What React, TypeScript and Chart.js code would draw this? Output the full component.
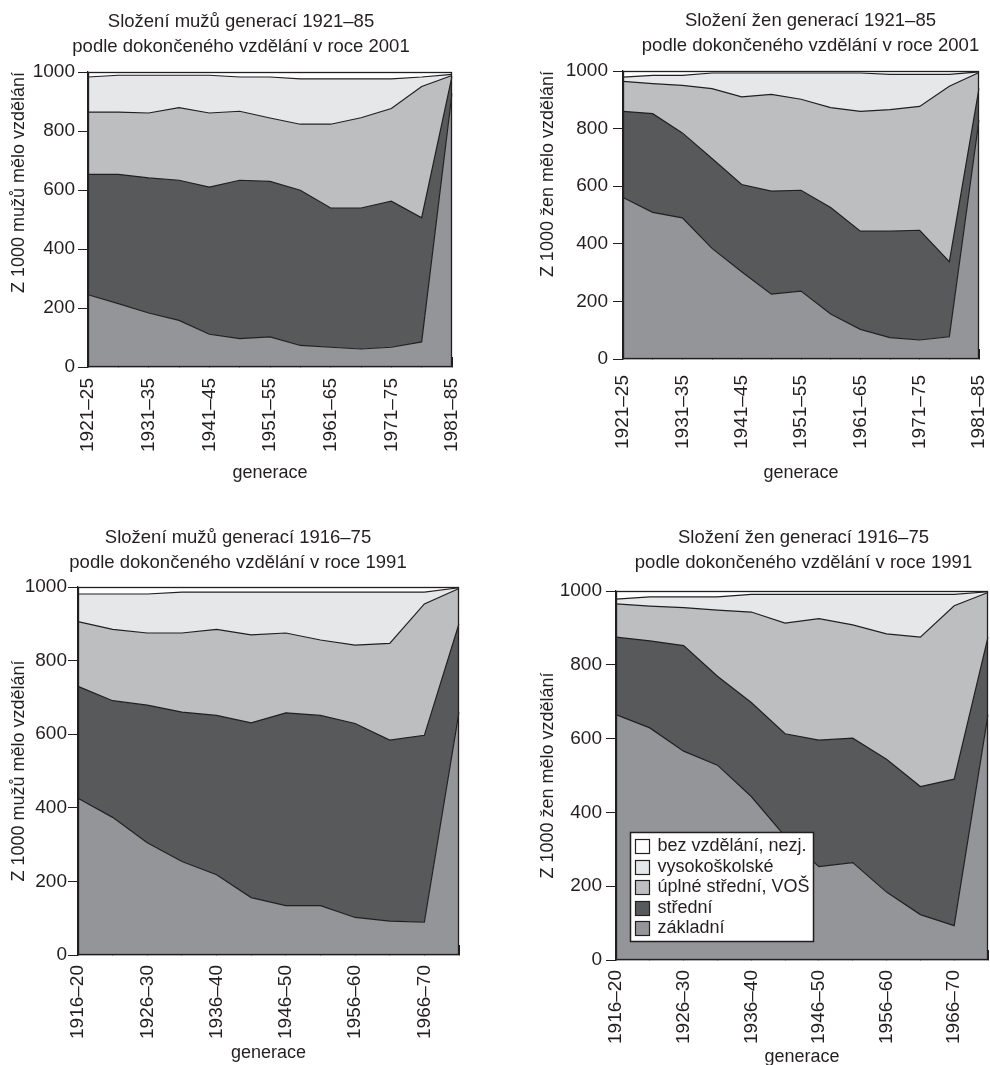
import React, { useEffect, useRef } from "react";
import { Chart, registerables } from "chart.js";

Chart.register(...registerables);

const FONT = "'Liberation Sans', Arial, Helvetica, sans-serif";
const TITLE_SIZE = 18.5;
const TICK_SIZE = 19;
const AXIS_TITLE_SIZE = 18;
const LEGEND_SIZE = 18;
const INK = "#231f20";
const TICK = 10;
const LH = 25;

// ---- series (legend) ----
const seriesNames = ["základní", "střední", "úplné střední, VOŠ", "vysokoškolské", "bez vzdělání, nezj."];
const seriesColors = ["#939598", "#58595b", "#bcbec0", "#e6e7e8", "#ffffff"];

// ---- categories ----
const gen2001 = ["1921–25", "1926–30", "1931–35", "1936–40", "1941–45", "1946–50", "1951–55", "1956–60", "1961–65", "1966–70", "1971–75", "1976–80", "1981–85"];
const gen1991 = ["1916–20", "1921–25", "1926–30", "1931–35", "1936–40", "1941–45", "1946–50", "1951–55", "1956–60", "1961–65", "1966–70", "1971–75"];

// ---- men, census 2001 (per 1000) ----
const men2001Zakladni = [245, 215, 183, 158, 111, 96, 102, 73, 67, 61, 67, 85, 927];
const men2001Stredni = [408, 438, 458, 475, 499, 537, 527, 526, 472, 478, 495, 421, 58];
const men2001Uplne = [211, 211, 220, 246, 251, 234, 215, 224, 284, 306, 314, 445, 3];
const men2001Vs = [119, 125, 128, 110, 128, 116, 139, 154, 154, 132, 101, 32, 4];
const men2001Bez = [17, 11, 11, 11, 11, 17, 17, 23, 23, 23, 23, 17, 8];

// ---- women, census 2001 ----
const women2001Zakladni = [561, 509, 490, 384, 303, 225, 236, 156, 103, 74, 66, 77, 830];
const women2001Stredni = [299, 343, 295, 312, 303, 358, 350, 370, 341, 370, 381, 261, 110];
const women2001Uplne = [104, 104, 165, 243, 304, 336, 316, 347, 416, 422, 430, 609, 55];
const women2001Vs = [15, 29, 35, 54, 83, 74, 91, 120, 133, 122, 111, 41, 2];
const women2001Bez = [21, 15, 15, 7, 7, 7, 7, 7, 7, 12, 12, 12, 3];

// ---- men, census 1991 ----
const men1991Zakladni = [426, 374, 305, 254, 218, 156, 134, 134, 102, 92, 89, 660];
const men1991Stredni = [304, 317, 374, 406, 433, 475, 524, 517, 527, 492, 508, 240];
const men1991Uplne = [176, 194, 196, 215, 234, 239, 217, 205, 213, 263, 357, 96];
const men1991Vs = [75, 96, 106, 111, 101, 116, 111, 130, 144, 139, 32, 2];
const men1991Bez = [19, 19, 19, 14, 14, 14, 14, 14, 14, 14, 14, 2];

// ---- women, census 1991 ----
const women1991Zakladni = [665, 629, 566, 528, 443, 335, 253, 264, 184, 123, 93, 665];
const women1991Stredni = [210, 236, 286, 241, 255, 278, 343, 337, 360, 347, 397, 210];
const women1991Uplne = [90, 94, 103, 179, 245, 300, 329, 307, 340, 405, 470, 121];
const women1991Vs = [13, 25, 29, 36, 48, 78, 66, 83, 107, 116, 31, 2];
const women1991Bez = [22, 16, 16, 16, 9, 9, 9, 9, 9, 9, 9, 2];

const yTicksMax = 1000;
const yTickStep = 200;

type Rect = { left: number; top: number; width: number; height: number };
type Area = { L: number; T: number; R: number; B: number };
type PanelCfg = {
  title: string[];
  yTitle: string;
  yTitleAlign: "center" | "end";
  labels: string[];
  series: number[][];
  canvas: Rect;
  area: Area;
  titleY: number;
  yTitleX: number;
  xTitleY: number;
  xLabelTop: number;
  yLabelRight: number;
  legend?: boolean;
};

const framePlugin = {
  id: "frame",
  afterDatasetsDraw(chart: any) {
    const { ctx, chartArea: a } = chart;
    ctx.save();
    ctx.strokeStyle = INK;
    ctx.lineWidth = 1.3;
    const l = Math.round(a.left) + 0.5;
    const t = Math.round(a.top) + 0.5;
    const r = Math.round(a.right) - 0.5;
    const b = Math.round(a.bottom) - 0.5;
    ctx.strokeRect(l, t, r - l, b - t);
    ctx.restore();
  },
};

const boxLegendPlugin = {
  id: "boxLegend",
  afterDraw(chart: any, _args: any, opts: any) {
    if (!opts || !opts.show) return;
    const { ctx, chartArea: a } = chart;
    const x = Math.round(a.left + opts.dx) + 0.5;
    const y = Math.round(a.bottom - opts.dy) + 0.5;
    ctx.save();
    ctx.fillStyle = "#ffffff";
    ctx.fillRect(x, y, opts.w, opts.h);
    ctx.strokeStyle = INK;
    ctx.lineWidth = 1.5;
    ctx.strokeRect(x, y, opts.w, opts.h);
    const items = chart.data.datasets.slice().reverse();
    items.forEach((d: any, i: number) => {
      const cy = y + opts.firstY + i * opts.rowH;
      const sx = Math.round(x + opts.swX) + 0.5;
      const sy = Math.round(cy - opts.swH / 2) + 0.5;
      ctx.fillStyle = d.backgroundColor;
      ctx.fillRect(sx, sy, opts.swW, opts.swH);
      ctx.lineWidth = 1.2;
      ctx.strokeStyle = INK;
      ctx.strokeRect(sx, sy, opts.swW, opts.swH);
      ctx.fillStyle = INK;
      ctx.font = `${LEGEND_SIZE}px ${FONT}`;
      ctx.textBaseline = "middle";
      ctx.textAlign = "left";
      ctx.fillText(d.label, x + opts.textX, cy);
    });
    ctx.restore();
  },
};

Chart.register(framePlugin, boxLegendPlugin);

function buildConfig(p: PanelCfg): any {
  const c = p.canvas;
  const yAxisW = p.area.L - c.left;
  const rightW = c.left + c.width - p.area.R;
  const titlePadTop = p.titleY - c.top - LH / 2;
  const titlePadBottom = p.area.T - c.top - 2 * LH - titlePadTop;
  const xAxisH = c.top + c.height - p.area.B;
  const xTitlePadBottom = c.top + c.height - p.xTitleY - LH / 2;
  const xTickPad = p.xLabelTop - p.area.B + TICK;
  const yTickPad = p.area.L - TICK - p.yLabelRight;
  const yTitlePad = p.yTitleX - c.left - LH / 2;
  const mk = (size: number) => ({ family: FONT, size, lineHeight: `${LH}px`, weight: "normal" });

  return {
    type: "line",
    data: {
      labels: p.labels,
      datasets: p.series.map((data, i) => ({
        label: seriesNames[i],
        data,
        backgroundColor: seriesColors[i],
        borderColor: INK,
        borderWidth: 1.2,
        fill: i === 0 ? "origin" : "-1",
        pointRadius: 0,
        tension: 0,
        xAxisID: "x",
        yAxisID: "y",
      })),
    },
    options: {
      responsive: false,
      maintainAspectRatio: false,
      animation: false,
      devicePixelRatio: 1,
      events: [],
      layout: { padding: 0 },
      plugins: {
        legend: { display: false },
        tooltip: { enabled: false },
        title: {
          display: true,
          text: p.title,
          color: INK,
          align: "center",
          font: mk(TITLE_SIZE),
          padding: { top: titlePadTop, bottom: titlePadBottom },
        },
        boxLegend: p.legend
          ? { show: true, dx: 13.5, dy: 128.5, w: 183, h: 109, firstY: 13.5, rowH: 20.6, swX: 4, swW: 14, swH: 14, textX: 27 }
          : { show: false },
      },
      scales: {
        x: {
          type: "category",
          position: "bottom",
          offset: false,
          grid: { display: true, drawOnChartArea: false, drawTicks: true, tickLength: -TICK, tickColor: INK, tickWidth: 1 },
          border: { display: true, color: INK, width: 1.3 },
          ticks: {
            autoSkip: false,
            minRotation: 90,
            maxRotation: 90,
            padding: xTickPad,
            color: INK,
            font: mk(TICK_SIZE),
            callback: (_v: any, i: number) => (i % 2 === 0 ? p.labels[i] : ""),
          },
          title: {
            display: true,
            text: "generace",
            color: INK,
            font: mk(AXIS_TITLE_SIZE),
            padding: { top: 0, bottom: xTitlePadBottom },
          },
          afterFit: (s: any) => {
            s.height = xAxisH;
            s.paddingLeft = 0;
            s.paddingRight = 0;
          },
        },
        y: {
          type: "linear",
          position: "left",
          stacked: true,
          min: 0,
          max: yTicksMax,
          grid: { display: true, drawOnChartArea: false, drawTicks: true, tickLength: TICK, tickColor: INK, tickWidth: 1 },
          border: { display: true, color: INK, width: 1.3 },
          ticks: {
            stepSize: yTickStep,
            padding: yTickPad,
            color: INK,
            font: mk(TICK_SIZE),
            callback: (v: any) => String(v),
          },
          title: {
            display: true,
            text: p.yTitle,
            align: p.yTitleAlign,
            color: INK,
            font: mk(AXIS_TITLE_SIZE),
            padding: { top: yTitlePad, bottom: 0 },
          },
          afterFit: (s: any) => {
            s.width = yAxisW;
            s.paddingTop = 0;
            s.paddingBottom = 0;
          },
        },
        yR: {
          type: "linear",
          position: "right",
          display: true,
          grid: { display: false, drawTicks: false },
          border: { display: false },
          ticks: { display: false },
          afterFit: (s: any) => {
            s.width = rightW;
            s.paddingTop = 0;
            s.paddingBottom = 0;
          },
        },
      },
    },
  };
}

const panels: PanelCfg[] = [
  {
    title: ["Složení mužů generací 1921–85", "podle dokončeného vzdělání v roce 2001"],
    yTitle: "Z 1000 mužů mělo vzdělání",
    yTitleAlign: "end",
    labels: gen2001,
    series: [men2001Zakladni, men2001Stredni, men2001Uplne, men2001Vs, men2001Bez],
    canvas: { left: 0, top: 0, width: 482, height: 500 },
    area: { L: 88, T: 72, R: 452, B: 367 },
    titleY: 21.5,
    yTitleX: 19,
    xTitleY: 473,
    xLabelTop: 378,
    yLabelRight: 75,
  },
  {
    title: ["Složení žen generací 1921–85", "podle dokončeného vzdělání v roce 2001"],
    yTitle: "Z 1000 žen mělo vzdělání",
    yTitleAlign: "end",
    labels: gen2001,
    series: [women2001Zakladni, women2001Stredni, women2001Uplne, women2001Vs, women2001Bez],
    canvas: { left: 530, top: 0, width: 561, height: 500 },
    area: { L: 623, T: 71, R: 979, B: 359 },
    titleY: 21,
    yTitleX: 548,
    xTitleY: 473,
    xLabelTop: 375,
    yLabelRight: 608,
  },
  {
    title: ["Složení mužů generací 1916–75", "podle dokončeného vzdělání v roce 1991"],
    yTitle: "Z 1000 mužů mělo vzdělání",
    yTitleAlign: "center",
    labels: gen1991,
    series: [men1991Zakladni, men1991Stredni, men1991Uplne, men1991Vs, men1991Bez],
    canvas: { left: 0, top: 510, width: 476, height: 570 },
    area: { L: 78, T: 587, R: 459, B: 955 },
    titleY: 537.5,
    yTitleX: 19,
    xTitleY: 1053,
    xLabelTop: 965,
    yLabelRight: 67,
  },
  {
    title: ["Složení žen generací 1916–75", "podle dokončeného vzdělání v roce 1991"],
    yTitle: "Z 1000 žen mělo vzdělání",
    yTitleAlign: "center",
    labels: gen1991,
    series: [women1991Zakladni, women1991Stredni, women1991Uplne, women1991Vs, women1991Bez],
    canvas: { left: 530, top: 510, width: 547, height: 570 },
    area: { L: 616, T: 591, R: 988, B: 960 },
    titleY: 538,
    yTitleX: 548,
    xTitleY: 1057,
    xLabelTop: 970,
    yLabelRight: 602,
    legend: true,
  },
];

function Panel({ cfg }: { cfg: PanelCfg }) {
  const ref = useRef<HTMLCanvasElement | null>(null);
  useEffect(() => {
    if (!ref.current) return;
    const chart = new Chart(ref.current, buildConfig(cfg));
    return () => chart.destroy();
  }, [cfg]);
  const c = cfg.canvas;
  return (
    <canvas
      ref={ref}
      width={c.width}
      height={c.height}
      style={{ position: "absolute", left: c.left, top: c.top, width: c.width, height: c.height }}
    />
  );
}

export default function App() {
  return (
    <div
      style={{
        position: "absolute",
        left: 0,
        top: 0,
        width: 990,
        height: 1065,
        overflow: "hidden",
        background: "#ffffff",
      }}
    >
      {panels.map((p, i) => (
        <Panel key={i} cfg={p} />
      ))}
    </div>
  );
}
